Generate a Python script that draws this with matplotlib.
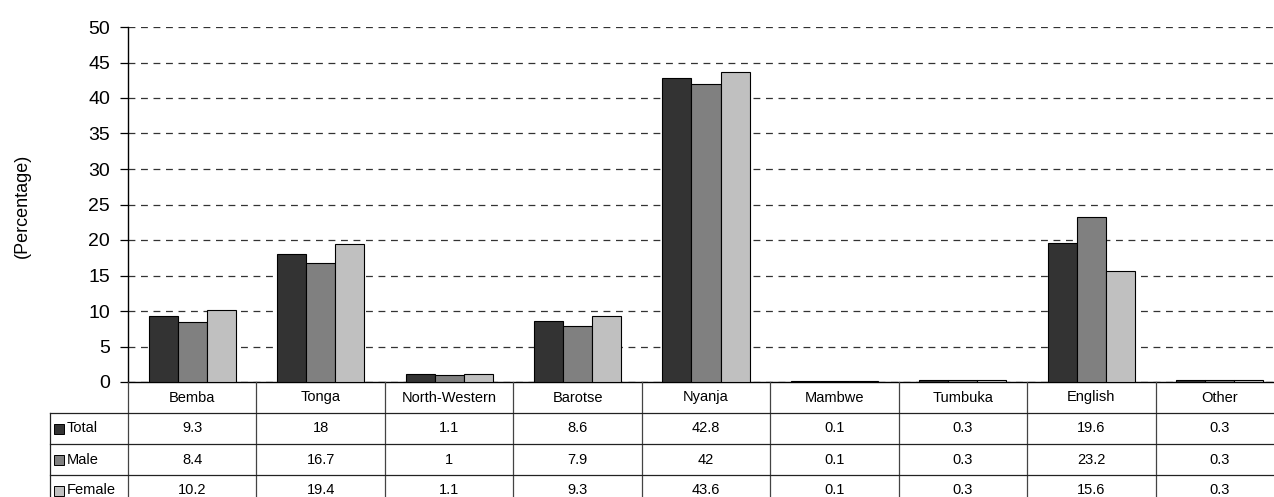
import matplotlib
matplotlib.use("Agg")
import matplotlib.pyplot as plt
from matplotlib.transforms import blended_transform_factory
from matplotlib.patches import Rectangle
from matplotlib.lines import Line2D

plt.rcParams['font.family'] = ['Liberation Sans', 'DejaVu Sans']

# Language distribution (percentage) by sex
languages = ['Bemba', 'Tonga', 'North-Western', 'Barotse', 'Nyanja',
             'Mambwe', 'Tumbuka', 'English', 'Other']
total = [9.3, 18, 1.1, 8.6, 42.8, 0.1, 0.3, 19.6, 0.3]
male = [8.4, 16.7, 1, 7.9, 42, 0.1, 0.3, 23.2, 0.3]
female = [10.2, 19.4, 1.1, 9.3, 43.6, 0.1, 0.3, 15.6, 0.3]
total_labels = ['9.3', '18', '1.1', '8.6', '42.8', '0.1', '0.3', '19.6', '0.3']
male_labels = ['8.4', '16.7', '1', '7.9', '42', '0.1', '0.3', '23.2', '0.3']
female_labels = ['10.2', '19.4', '1.1', '9.3', '43.6', '0.1', '0.3', '15.6', '0.3']
series_names = ['Total', 'Male', 'Female']
series_colors = ['#333333', '#808080', '#c0c0c0']
y_ticks = [0, 5, 10, 15, 20, 25, 30, 35, 40, 45, 50]

W, H = 1274, 497
fig = plt.figure(figsize=(W / 100, H / 100), dpi=100)

ax_l, ax_r, ax_t, ax_b = 128, 1284, 27, 382
ax = fig.add_axes([ax_l / W, 1 - ax_b / H, (ax_r - ax_l) / W, (ax_b - ax_t) / H])

series = [total, male, female]
bw = 0.226
n = len(languages)
for i, (vals, color) in enumerate(zip(series, series_colors)):
    xs = [k + (i - 1) * bw for k in range(n)]
    ax.bar(xs, vals, width=bw, color=color, edgecolor='black', linewidth=0.8, zorder=3)

ax.set_xlim(-0.5, n - 0.5)
ax.set_ylim(0, 50)
ax.set_yticks(y_ticks)
ax.set_xticks([])
ax.yaxis.grid(True, linestyle=(0, (5.5, 4.5)), color='#333333', linewidth=0.9)
ax.set_axisbelow(True)
for s in ('top', 'right'):
    ax.spines[s].set_visible(False)
ax.spines['left'].set_linewidth(1.0)
ax.spines['bottom'].set_linewidth(1.0)
ax.tick_params(axis='y', length=6, width=0.9, pad=7, labelsize=14)

fig.text(22 / W, 1 - 206 / H, '(Percentage)', rotation=90, ha='center', va='center',
         fontsize=13)

# Data table under the chart
def fy(y):
    return 1 - y / H

def fx(x):
    return x / W

tr = blended_transform_factory(ax.transData, fig.transFigure)
row_edges = [382, 413, 444, 475, 506]
lc = '#222222'
lw = 0.9

for k in range(n + 1):
    fig.add_artist(Line2D([k - 0.5, k - 0.5], [fy(row_edges[0]), fy(row_edges[-1])],
                          transform=tr, color='#444444', lw=lw, clip_on=False))
for y in row_edges[1:4]:
    fig.add_artist(Line2D([fx(50), fx(ax_r)], [fy(y), fy(y)], transform=fig.transFigure,
                          color=lc, lw=lw, clip_on=False))
fig.add_artist(Line2D([fx(50), fx(50)], [fy(row_edges[1]), fy(row_edges[-1])],
                      transform=fig.transFigure, color=lc, lw=lw, clip_on=False))

fs = 10.5
hc = (row_edges[0] + row_edges[1]) / 2
for k, name in enumerate(languages):
    fig.text(k, fy(hc), name, transform=tr, ha='center', va='center', fontsize=fs)

rows = [total_labels, male_labels, female_labels]
for r, (labels, name, color) in enumerate(zip(rows, series_names, series_colors)):
    yc = (row_edges[r + 1] + row_edges[r + 2]) / 2
    fig.add_artist(Rectangle((fx(54), fy(yc + 5)), 10 / W, 10 / H, transform=fig.transFigure,
                             facecolor=color, edgecolor='black', linewidth=0.7))
    fig.text(fx(67), fy(yc), name, ha='left', va='center', fontsize=fs)
    for k, lab in enumerate(labels):
        fig.text(k, fy(yc), lab, transform=tr, ha='center', va='center', fontsize=fs)

fig.savefig('out.png', dpi=100)
